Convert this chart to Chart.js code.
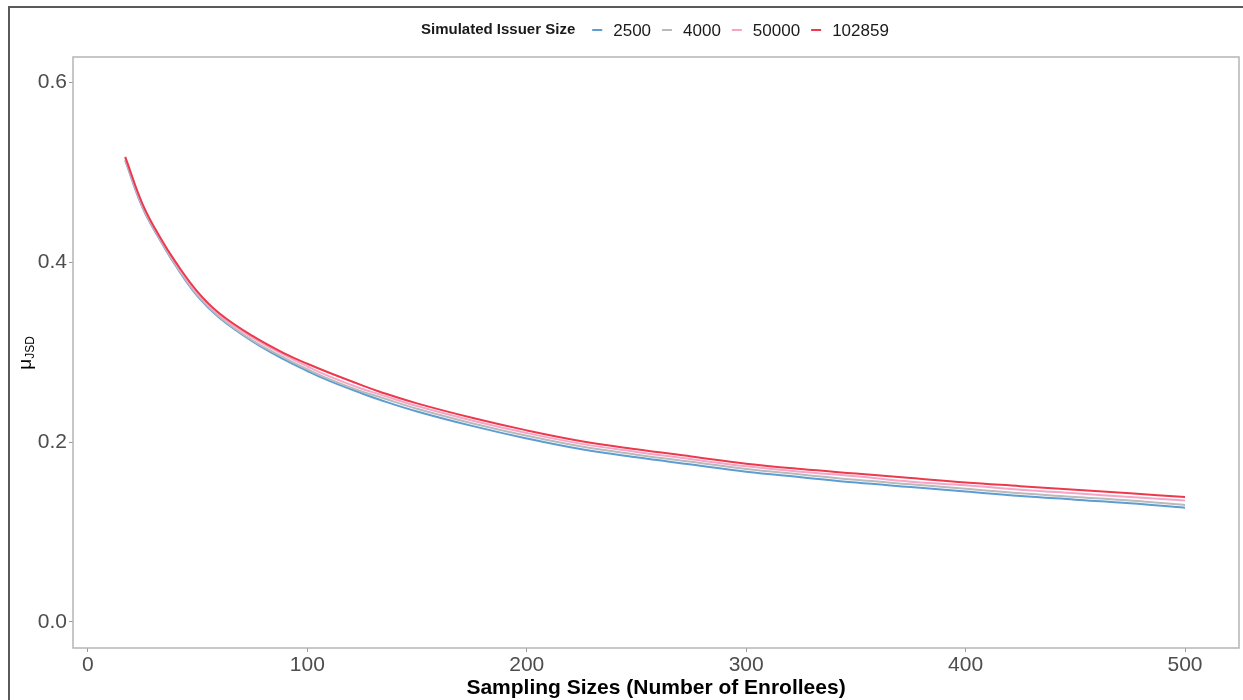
<!DOCTYPE html>
<html>
<head>
<meta charset="utf-8">
<script src="https://cdn.jsdelivr.net/npm/chart.js@4/dist/chart.umd.min.js"></script>
<style>
  html, body { margin: 0; padding: 0; background: #fff; }
  #wrap { width: 1243px; height: 700px; position: relative; }
</style>
</head>
<body>
<div id="wrap"><canvas id="myChart"></canvas></div>
<script>
// sampling sizes (number of enrollees)
let sampleSizes = [17, 25, 33, 40, 50, 60, 75, 90, 100, 110, 125, 133, 150, 175, 200, 225, 250, 275, 300, 325, 350, 375, 400, 425, 450, 475, 500];

// mean JSD per simulated issuer size
let jsd2500   = [0.513, 0.460, 0.424, 0.396, 0.362, 0.338, 0.312, 0.291, 0.279, 0.268, 0.254, 0.247, 0.234, 0.218, 0.204, 0.192, 0.183, 0.175, 0.167, 0.161, 0.155, 0.150, 0.145, 0.140, 0.136, 0.132, 0.127];
let jsd4000   = [0.514, 0.461, 0.425, 0.397, 0.363, 0.339, 0.313, 0.293, 0.281, 0.270, 0.256, 0.250, 0.237, 0.221, 0.207, 0.195, 0.186, 0.178, 0.170, 0.164, 0.158, 0.153, 0.148, 0.143, 0.139, 0.135, 0.130];
let jsd50000  = [0.516, 0.463, 0.426, 0.399, 0.365, 0.341, 0.316, 0.296, 0.284, 0.273, 0.259, 0.253, 0.240, 0.224, 0.210, 0.198, 0.189, 0.181, 0.173, 0.167, 0.162, 0.156, 0.152, 0.147, 0.143, 0.139, 0.135];
let jsd102859 = [0.517, 0.464, 0.427, 0.400, 0.367, 0.343, 0.318, 0.298, 0.287, 0.277, 0.263, 0.256, 0.243, 0.227, 0.213, 0.201, 0.192, 0.184, 0.176, 0.170, 0.165, 0.160, 0.155, 0.151, 0.147, 0.143, 0.139];

let issuerSizes = ["2500", "4000", "50000", "102859"];
let lineColors = ["#5e9dd2", "#bababa", "#f6a5c8", "#ec3a4c"];

let xTicks = [0, 100, 200, 300, 400, 500];
let yTicks = [0.0, 0.2, 0.4, 0.6];

const FONT = "'Liberation Sans', Arial, Helvetica, sans-serif";

function toPoints(ys){
  return sampleSizes.map((x, i) => ({x: x, y: ys[i]}));
}

let series = [jsd2500, jsd4000, jsd50000, jsd102859];

const datasets = series.map((ys, i) => ({
  label: issuerSizes[i],
  data: toPoints(ys),
  borderColor: lineColors[i],
  borderWidth: 2,
  pointRadius: 0,
  tension: 0.4,
  order: series.length - i
}));

// frame, panel border, legend and axis titles
const decorations = {
  id: 'decorations',
  afterDraw(chart){
    const ctx = chart.ctx;
    const a = chart.chartArea;
    ctx.save();

    // outer frame
    ctx.strokeStyle = '#5a5a5a';
    ctx.lineWidth = 2;
    ctx.beginPath();
    ctx.moveTo(9, 700);
    ctx.lineTo(9, 7);
    ctx.lineTo(1243, 7);
    ctx.stroke();

    // panel border
    ctx.strokeStyle = '#b5b5b5';
    ctx.lineWidth = 1.5;
    ctx.strokeRect(a.left, a.top, a.right - a.left, a.bottom - a.top);

    // legend
    ctx.textBaseline = 'middle';
    ctx.textAlign = 'left';
    ctx.fillStyle = '#1a1a1a';
    ctx.font = 'bold 15px ' + FONT;
    let x = 421;
    const y = 30;
    ctx.fillText('Simulated Issuer Size', x, y);
    x += ctx.measureText('Simulated Issuer Size').width + 17;
    ctx.font = '17px ' + FONT;
    chart.data.datasets.forEach(ds => {
      ctx.strokeStyle = ds.borderColor;
      ctx.lineWidth = 2;
      ctx.beginPath();
      ctx.moveTo(x, y);
      ctx.lineTo(x + 10, y);
      ctx.stroke();
      x += 21;
      ctx.fillStyle = '#1a1a1a';
      ctx.fillText(ds.label, x, y + 1);
      x += ctx.measureText(ds.label).width + 11;
    });

    // x axis title
    ctx.textAlign = 'center';
    ctx.fillStyle = '#000';
    ctx.font = 'bold 21px ' + FONT;
    ctx.fillText('Sampling Sizes (Number of Enrollees)', (a.left + a.right) / 2, 688);

    // y axis title: mu with JSD subscript
    ctx.translate(26, 353);
    ctx.rotate(-Math.PI / 2);
    ctx.textAlign = 'left';
    ctx.font = '19px ' + FONT;
    const muW = ctx.measureText('\u03bc').width;
    ctx.font = '12px ' + FONT;
    const subW = ctx.measureText('JSD').width;
    const start = -(muW + subW) / 2;
    ctx.font = '19px ' + FONT;
    ctx.fillText('\u03bc', start, 0);
    ctx.font = '12px ' + FONT;
    ctx.fillText('JSD', start + muW, 5);

    ctx.restore();
  }
};

const config = {
  type: 'line',
  data: { datasets: datasets },
  options: {
    responsive: false,
    animation: false,
    layout: { padding: { left: 0, top: 57, right: 4, bottom: 0 } },
    plugins: {
      legend: { display: false },
      tooltip: { enabled: false }
    },
    scales: {
      x: {
        type: 'linear',
        min: -6.8,
        max: 524.6,
        afterBuildTicks: scale => { scale.ticks = xTicks.map(v => ({value: v})); },
        afterFit: scale => { scale.height = 52; },
        border: { display: false },
        grid: {
          drawOnChartArea: false,
          drawTicks: true,
          tickLength: 4,
          color: '#9a9a9a'
        },
        ticks: {
          color: '#4d4d4d',
          font: { family: FONT, size: 21 },
          padding: 1,
          maxRotation: 0,
          callback: v => String(v)
        }
      },
      y: {
        type: 'linear',
        min: -0.0289,
        max: 0.628,
        afterBuildTicks: scale => { scale.ticks = yTicks.map(v => ({value: v})); },
        afterFit: scale => { scale.width = 73; },
        border: { display: false },
        grid: {
          drawOnChartArea: false,
          drawTicks: true,
          tickLength: 4,
          color: '#9a9a9a'
        },
        ticks: {
          color: '#4d4d4d',
          font: { family: FONT, size: 21 },
          padding: 2,
          callback: v => Number(v).toFixed(1)
        }
      }
    }
  },
  plugins: [decorations]
};

const canvas = document.getElementById('myChart');
canvas.width = 1243;
canvas.height = 700;
let myChart = new Chart(canvas.getContext('2d'), config);
</script>
</body>
</html>
